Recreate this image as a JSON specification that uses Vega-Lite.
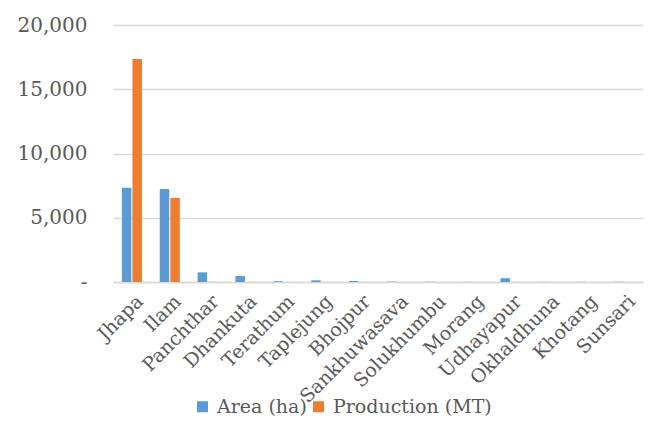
{
  "$schema": "https://vega.github.io/schema/vega-lite/v6.json",
  "autosize": {"type": "none"},
  "width": 530,
  "height": 257,
  "padding": {"left": 113, "top": 25, "right": 10, "bottom": 145},
  "background": "white",
  "data": {
    "values": [
      {"district": "Jhapa", "series": "Area (ha)", "value": 7340},
      {"district": "Jhapa", "series": "Production (MT)", "value": 17350},
      {"district": "Ilam", "series": "Area (ha)", "value": 7240},
      {"district": "Ilam", "series": "Production (MT)", "value": 6540},
      {"district": "Panchthar", "series": "Area (ha)", "value": 750},
      {"district": "Panchthar", "series": "Production (MT)", "value": 10},
      {"district": "Dhankuta", "series": "Area (ha)", "value": 460},
      {"district": "Dhankuta", "series": "Production (MT)", "value": 10},
      {"district": "Terathum", "series": "Area (ha)", "value": 60},
      {"district": "Terathum", "series": "Production (MT)", "value": 5},
      {"district": "Taplejung", "series": "Area (ha)", "value": 130},
      {"district": "Taplejung", "series": "Production (MT)", "value": 5},
      {"district": "Bhojpur", "series": "Area (ha)", "value": 80},
      {"district": "Bhojpur", "series": "Production (MT)", "value": 5},
      {"district": "Sankhuwasava", "series": "Area (ha)", "value": 30},
      {"district": "Sankhuwasava", "series": "Production (MT)", "value": 2},
      {"district": "Solukhumbu", "series": "Area (ha)", "value": 10},
      {"district": "Solukhumbu", "series": "Production (MT)", "value": 1},
      {"district": "Morang", "series": "Area (ha)", "value": 10},
      {"district": "Morang", "series": "Production (MT)", "value": 1},
      {"district": "Udhayapur", "series": "Area (ha)", "value": 300},
      {"district": "Udhayapur", "series": "Production (MT)", "value": 5},
      {"district": "Okhaldhuna", "series": "Area (ha)", "value": 10},
      {"district": "Okhaldhuna", "series": "Production (MT)", "value": 1},
      {"district": "Khotang", "series": "Area (ha)", "value": 15},
      {"district": "Khotang", "series": "Production (MT)", "value": 1},
      {"district": "Sunsari", "series": "Area (ha)", "value": 10},
      {"district": "Sunsari", "series": "Production (MT)", "value": 1}
    ]
  },
  "mark": {"type": "bar"},
  "encoding": {
    "x": {
      "field": "district",
      "type": "nominal",
      "sort": null,
      "scale": {"paddingInner": 0.47, "paddingOuter": 0.235},
      "axis": {
        "title": null,
        "labelAngle": -45,
        "labelAlign": "right",
        "labelBaseline": "middle",
        "labelFont": "DejaVu Serif",
        "labelFontSize": 19,
        "labelColor": "#595959",
        "labelPadding": 16,
        "labelOffset": 8,
        "ticks": false,
        "domainColor": "#d9d9d9",
        "domainWidth": 1.5
      }
    },
    "xOffset": {
      "field": "series",
      "type": "nominal",
      "scale": {"paddingInner": 0.1}
    },
    "y": {
      "field": "value",
      "type": "quantitative",
      "scale": {"domain": [0, 20000]},
      "axis": {
        "title": null,
        "values": [0, 5000, 10000, 15000, 20000],
        "labelExpr": "datum.value == 0 ? '-' : format(datum.value, ',')",
        "labelFont": "DejaVu Serif",
        "labelFontSize": 20,
        "labelColor": "#595959",
        "labelPadding": 26,
        "ticks": false,
        "domain": false,
        "gridColor": "#d9d9d9",
        "gridWidth": 1.5
      }
    },
    "color": {
      "field": "series",
      "type": "nominal",
      "scale": {"domain": ["Area (ha)", "Production (MT)"], "range": ["#5B9BD5", "#ED7D31"]},
      "legend": {
        "title": null,
        "orient": "none",
        "direction": "horizontal",
        "legendX": 80,
        "legendY": 372,
        "symbolType": "square",
        "symbolSize": 121,
        "symbolStrokeWidth": 0,
        "labelFont": "DejaVu Serif",
        "labelFontSize": 19,
        "labelColor": "#595959",
        "labelOffset": 5,
        "columnPadding": 2,
        "symbolOffset": 0
      }
    }
  },
  "config": {"view": {"stroke": null}}
}
